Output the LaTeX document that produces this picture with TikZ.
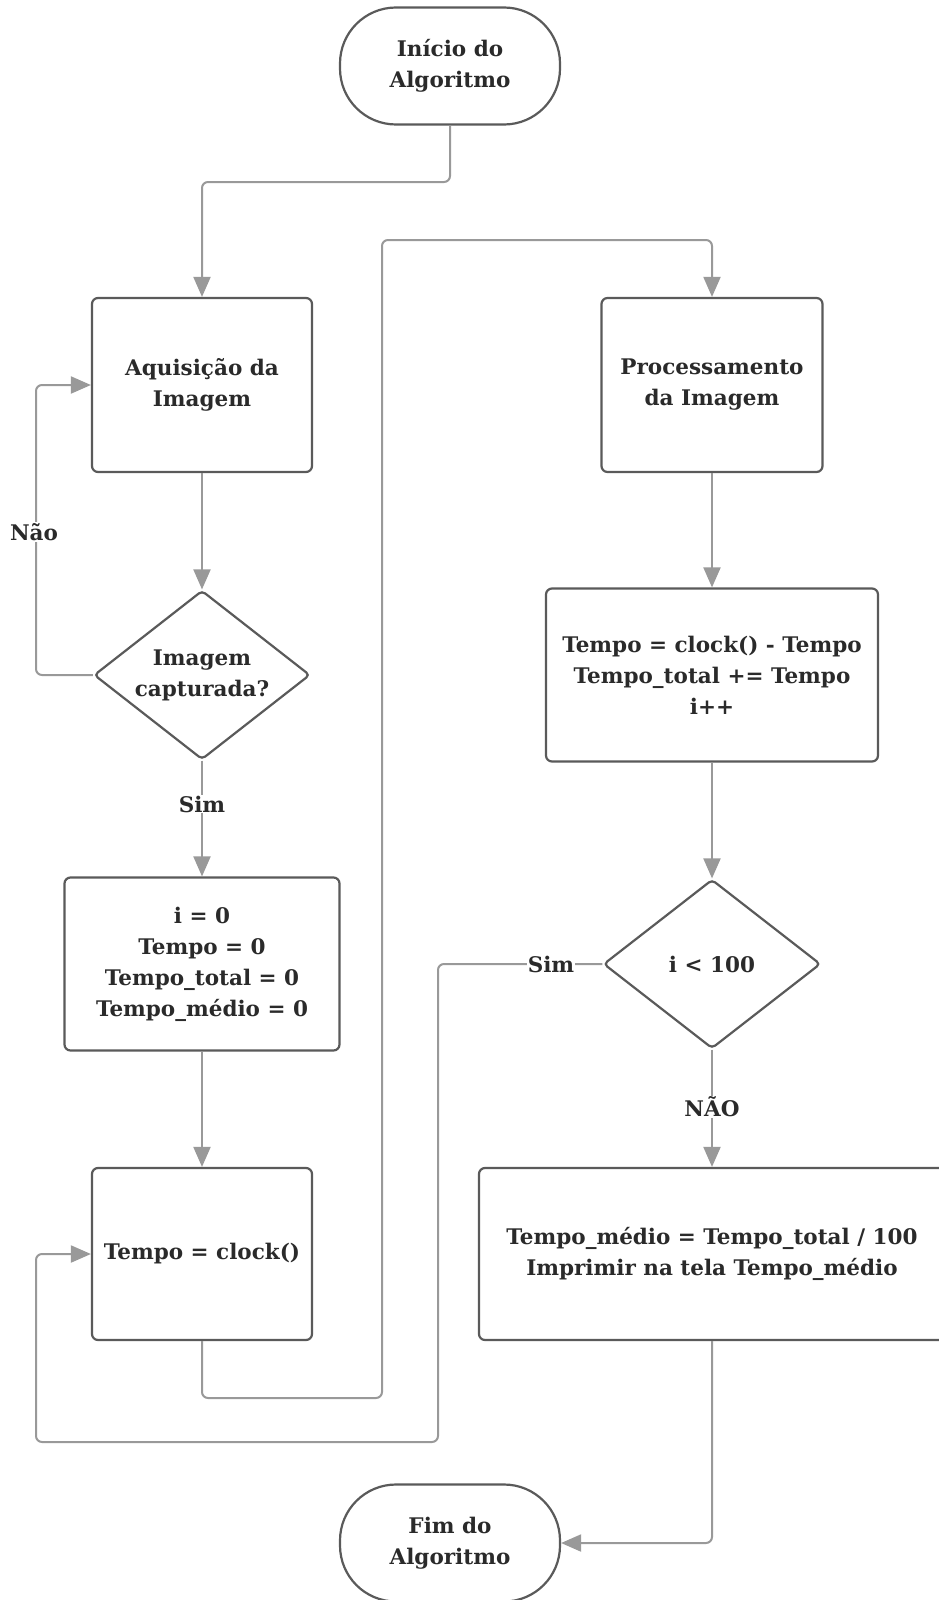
\documentclass[tikz,border=0pt]{standalone}
\usepackage{fontspec}
\setmainfont{DejaVu Serif}
\usetikzlibrary{arrows.meta,shapes.geometric}
\definecolor{boxline}{HTML}{5A5A5A}
\definecolor{connline}{HTML}{999999}
\definecolor{txt}{HTML}{2A2A2A}
\tikzset{
  base/.style={draw=boxline, line width=2.2pt, text=txt, font=\bfseries\fontsize{21.5}{31}\selectfont, align=center, inner sep=0pt},
  procbox/.style={base, rectangle, rounded corners=6pt},
  termbox/.style={base, rectangle, rounded corners=56pt, minimum width=220pt, minimum height=117pt},
  decbox/.style={base, diamond, aspect=1.28, rounded corners=4pt, minimum width=216pt, minimum height=169pt},
  conn/.style={draw=connline, line width=2pt, rounded corners=6pt, -{Triangle[length=20pt,width=17pt,fill=connline]}},
  lbl/.style={fill=white, text=txt, font=\bfseries\fontsize{21.5}{26}\selectfont, inner sep=1pt}
}
\begin{document}
\begin{tikzpicture}[x=1pt,y=-1pt]
\useasboundingbox (0,0) rectangle (938,1600);
\fill[white] (0,0) rectangle (938,1600);
\node[termbox] (start) at (450,66) {Início do\\Algoritmo};
\node[procbox, minimum width=220pt, minimum height=174pt] (acq) at (202,385) {Aquisição da\\Imagem};
\node[decbox] (dec1) at (202,675) {Imagem\\capturada?};
\node[procbox, minimum width=275pt, minimum height=173pt] (init) at (202,964) {i = 0\\Tempo = 0\\Tempo\_total = 0\\Tempo\_médio = 0};
\node[procbox, minimum width=220pt, minimum height=172pt] (clock) at (202,1254) {Tempo = clock()};
\node[procbox, minimum width=221pt, minimum height=174pt] (proc) at (712,385) {Processamento\\da Imagem};
\node[procbox, minimum width=332pt, minimum height=173pt] (calc) at (712,675) {Tempo = clock() - Tempo\\Tempo\_total += Tempo\\i++};
\node[decbox, minimum width=217pt] (dec2) at (712,964) {i < 100};
\node[procbox, minimum width=466pt, minimum height=172pt] (final) at (712,1254) {Tempo\_médio = Tempo\_total / 100\\Imprimir na tela Tempo\_médio};
\node[termbox] (end) at (450,1543) {Fim do\\Algoritmo};

\draw[conn] (start.south) -- (450,182) -- (202,182) -- (acq.north);
\draw[conn] (acq.south) -- (dec1.north);
\draw[conn] (dec1.west) -- (36,675) -- (36,385) -- (acq.west);
\node[lbl] (nao) at (34,532) {Não};
\draw[conn] (dec1.south) -- (init.north);
\node[lbl] (sim1) at (202,804) {Sim};
\draw[conn] (init.south) -- (clock.north);
\draw[conn] (clock.south) -- (202,1398) -- (382,1398) -- (382,240) -- (712,240) -- (proc.north);
\draw[conn] (proc.south) -- (calc.north);
\draw[conn] (calc.south) -- (dec2.north);
\draw[conn] (dec2.west) -- (438,964) -- (438,1442) -- (36,1442) -- (36,1254) -- (clock.west);
\node[lbl] (sim2) at (551,964) {Sim};
\draw[conn] (dec2.south) -- (final.north);
\node[lbl] (nao2) at (712,1107) {NÃO};
\draw[conn] (final.south) -- (712,1543) -- (end.east);
\end{tikzpicture}
\end{document}
